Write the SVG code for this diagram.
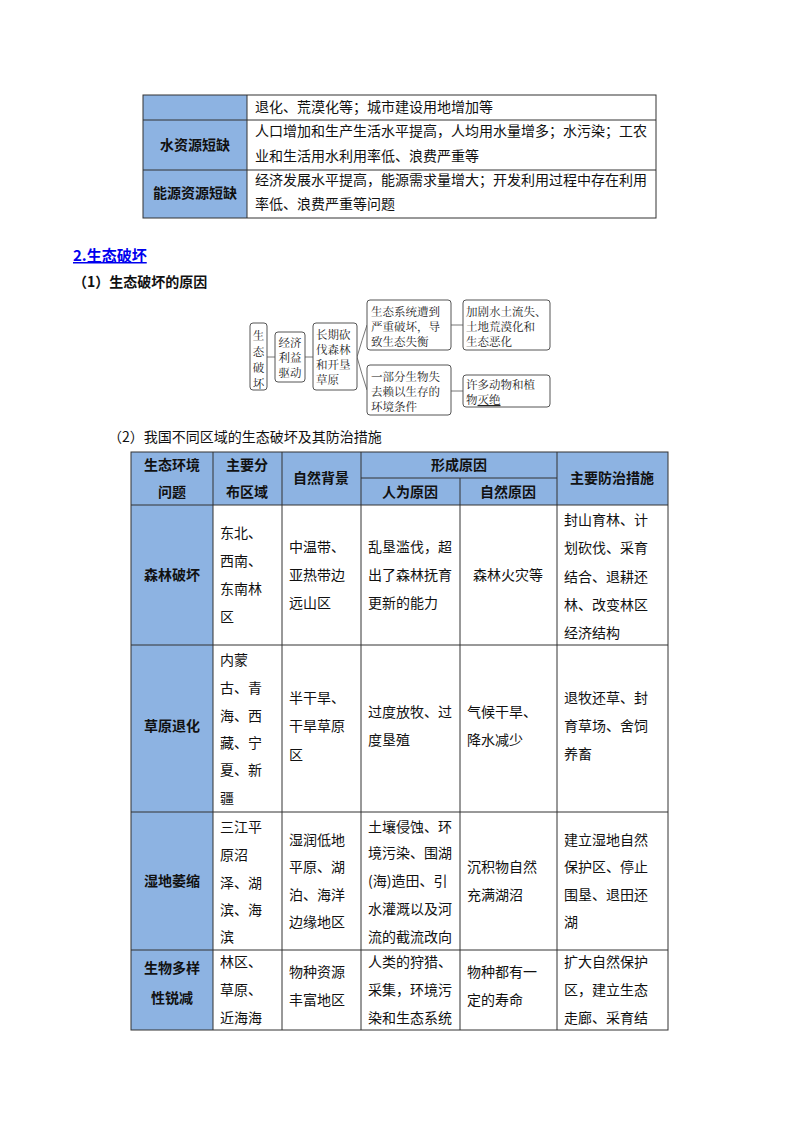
<svg xmlns="http://www.w3.org/2000/svg" width="800" height="1132" viewBox="0 0 800 1132">
<style>
text{font-family:"Noto Sans CJK SC","Liberation Sans",sans-serif;fill:#111}
.t{font-size:14px}
.b{font-size:14px;font-weight:bold}
.c{text-anchor:middle}
.f{font-family:"Noto Serif CJK SC","Noto Sans CJK SC",serif;font-size:11.5px;fill:#222}
.ln{stroke:#333;stroke-width:1;fill:none}
.hd{fill:#8db3e2}
.bx{fill:#fff;stroke:#555;stroke-width:1}
.cn{stroke:#777;stroke-width:1;fill:none}
</style>
<rect width="800" height="1132" fill="#fff"/>
<g id="table1">
<rect class="hd" x="143" y="95" width="104" height="123"/>
<rect class="ln" x="143" y="95" width="513" height="123"/>
<line class="ln" x1="247" y1="95" x2="247" y2="218"/>
<line class="ln" x1="143" y1="120" x2="656" y2="120"/>
<line class="ln" x1="143" y1="170" x2="656" y2="170"/>
<text class="t" x="255" y="112">退化、荒漠化等；城市建设用地增加等</text>
<text class="b c" x="195" y="150">水资源短缺</text>
<text class="t" x="255" y="136">人口增加和生产生活水平提高，人均用水量增多；水污染；工农</text>
<text class="t" x="255" y="161">业和生活用水利用率低、浪费严重等</text>
<text class="b c" x="195" y="198">能源资源短缺</text>
<text class="t" x="255" y="185">经济发展水平提高，能源需求量增大；开发利用过程中存在利用</text>
<text class="t" x="255" y="209">率低、浪费严重等问题</text>
</g>
<text x="73" y="261" style="font-size:15px;font-weight:bold;fill:#0000ee;text-decoration:underline">2.生态破坏</text>
<text x="73" y="287" style="font-size:14px;font-weight:bold">（1）生态破坏的原因</text>
<g id="connectors">
<line class="cn" x1="267" y1="357" x2="275" y2="357"/>
<line class="cn" x1="305" y1="357" x2="313" y2="357"/>
<path class="cn" d="M357,357 Q362,340 367,325"/>
<path class="cn" d="M357,357 Q362,375 367,390"/>
<line class="cn" x1="451" y1="325" x2="463" y2="325"/>
<line class="cn" x1="451" y1="391" x2="463" y2="391"/>
</g>
<g id="n1"><rect class="bx" x="250" y="323" width="17" height="67" rx="3"/>
<text class="f c" x="258.5" y="340">生</text><text class="f c" x="258.5" y="356">态</text><text class="f c" x="258.5" y="372">破</text><text class="f c" x="258.5" y="388">坏</text></g>
<g id="n2"><rect class="bx" x="275" y="332" width="30" height="50" rx="3"/>
<text class="f c" x="290" y="347">经济</text><text class="f c" x="290" y="362">利益</text><text class="f c" x="290" y="377">驱动</text></g>
<g id="n3"><rect class="bx" x="313" y="323" width="44" height="67" rx="3"/>
<text class="f" x="316" y="339">长期砍</text><text class="f" x="316" y="354">伐森林</text><text class="f" x="316" y="369">和开垦</text><text class="f" x="316" y="384">草原</text></g>
<g id="n4"><rect class="bx" x="367" y="300" width="84" height="50" rx="3"/>
<text class="f" x="371" y="316">生态系统遭到</text><text class="f" x="371" y="331">严重破坏，导</text><text class="f" x="371" y="346">致生态失衡</text></g>
<g id="n5"><rect class="bx" x="463" y="300" width="87" height="50" rx="3"/>
<text class="f" x="466" y="316">加剧水土流失、</text><text class="f" x="466" y="331">土地荒漠化和</text><text class="f" x="466" y="346">生态恶化</text></g>
<g id="n6"><rect class="bx" x="367" y="365" width="84" height="50" rx="3"/>
<text class="f" x="371" y="381">一部分生物失</text><text class="f" x="371" y="396">去赖以生存的</text><text class="f" x="371" y="411">环境条件</text></g>
<g id="n7"><rect class="bx" x="463" y="375" width="87" height="32" rx="3"/>
<text class="f" x="466" y="389">许多动物和植</text><text class="f" x="466" y="404">物<tspan style="text-decoration:underline">灭绝</tspan></text></g>
<text x="108" y="442" style="font-size:14px">（2）我国不同区域的生态破坏及其防治措施</text>
<g id="table2">
<rect class="hd" x="131" y="452" width="537" height="53"/>
<rect class="hd" x="131" y="505" width="82" height="525"/>
<rect class="ln" x="131" y="452" width="537" height="578"/>
<line class="ln" x1="213" y1="452" x2="213" y2="1030"/>
<line class="ln" x1="282" y1="452" x2="282" y2="1030"/>
<line class="ln" x1="361" y1="452" x2="361" y2="1030"/>
<line class="ln" x1="460" y1="478" x2="460" y2="1030"/>
<line class="ln" x1="557" y1="452" x2="557" y2="1030"/>
<line class="ln" x1="361" y1="478" x2="557" y2="478"/>
<line class="ln" x1="131" y1="505" x2="668" y2="505"/>
<line class="ln" x1="131" y1="645" x2="668" y2="645"/>
<line class="ln" x1="131" y1="812" x2="668" y2="812"/>
<line class="ln" x1="131" y1="950" x2="668" y2="950"/>
<text class="b c" x="172" y="470">生态环境</text><text class="b c" x="172" y="497">问题</text>
<text class="b c" x="247" y="470">主要分</text><text class="b c" x="247" y="497">布区域</text>
<text class="b c" x="321" y="483">自然背景</text>
<text class="b c" x="459" y="470">形成原因</text>
<text class="b c" x="410" y="497">人为原因</text><text class="b c" x="508" y="497">自然原因</text>
<text class="b c" x="612" y="483">主要防治措施</text>

<text class="b c" x="172" y="580">森林破坏</text>
<text class="t" x="220" y="538">东北、</text><text class="t" x="220" y="566">西南、</text><text class="t" x="220" y="594">东南林</text><text class="t" x="220" y="622">区</text>
<text class="t" x="289" y="552">中温带、</text><text class="t" x="289" y="580">亚热带边</text><text class="t" x="289" y="608">远山区</text>
<text class="t" x="368" y="552">乱垦滥伐，超</text><text class="t" x="368" y="580">出了森林抚育</text><text class="t" x="368" y="608">更新的能力</text>
<text class="t" x="473" y="580">森林火灾等</text>
<text class="t" x="564" y="525">封山育林、计</text><text class="t" x="564" y="553">划砍伐、采育</text><text class="t" x="564" y="582">结合、退耕还</text><text class="t" x="564" y="610">林、改变林区</text><text class="t" x="564" y="638">经济结构</text>

<text class="b c" x="172" y="731">草原退化</text>
<text class="t" x="220" y="665">内蒙</text><text class="t" x="220" y="693">古、青</text><text class="t" x="220" y="721">海、西</text><text class="t" x="220" y="748">藏、宁</text><text class="t" x="220" y="775">夏、新</text><text class="t" x="220" y="803">疆</text>
<text class="t" x="289" y="703">半干旱、</text><text class="t" x="289" y="731">干旱草原</text><text class="t" x="289" y="760">区</text>
<text class="t" x="368" y="717">过度放牧、过</text><text class="t" x="368" y="745">度垦殖</text>
<text class="t" x="467" y="717">气候干旱、</text><text class="t" x="467" y="745">降水减少</text>
<text class="t" x="564" y="703">退牧还草、封</text><text class="t" x="564" y="731">育草场、舍饲</text><text class="t" x="564" y="759">养畜</text>

<text class="b c" x="172" y="886">湿地萎缩</text>
<text class="t" x="220" y="832">三江平</text><text class="t" x="220" y="860">原沼</text><text class="t" x="220" y="888">泽、湖</text><text class="t" x="220" y="915">滨、海</text><text class="t" x="220" y="942">滨</text>
<text class="t" x="289" y="845">湿润低地</text><text class="t" x="289" y="872">平原、湖</text><text class="t" x="289" y="900">泊、海洋</text><text class="t" x="289" y="927">边缘地区</text>
<text class="t" x="368" y="832">土壤侵蚀、环</text><text class="t" x="368" y="858">境污染、围湖</text><text class="t" x="368" y="886">(海)造田、引</text><text class="t" x="368" y="914">水灌溉以及河</text><text class="t" x="368" y="942">流的截流改向</text>
<text class="t" x="467" y="872">沉积物自然</text><text class="t" x="467" y="900">充满湖沼</text>
<text class="t" x="564" y="845">建立湿地自然</text><text class="t" x="564" y="872">保护区、停止</text><text class="t" x="564" y="900">围垦、退田还</text><text class="t" x="564" y="927">湖</text>

<text class="b c" x="172" y="973">生物多样</text><text class="b c" x="172" y="1003">性锐减</text>
<text class="t" x="220" y="967">林区、</text><text class="t" x="220" y="995">草原、</text><text class="t" x="220" y="1023">近海海</text>
<text class="t" x="289" y="977">物种资源</text><text class="t" x="289" y="1005">丰富地区</text>
<text class="t" x="368" y="967">人类的狩猎、</text><text class="t" x="368" y="995">采集，环境污</text><text class="t" x="368" y="1023">染和生态系统</text>
<text class="t" x="467" y="977">物种都有一</text><text class="t" x="467" y="1005">定的寿命</text>
<text class="t" x="564" y="967">扩大自然保护</text><text class="t" x="564" y="995">区，建立生态</text><text class="t" x="564" y="1023">走廊、采育结</text>
</g>
</svg>
